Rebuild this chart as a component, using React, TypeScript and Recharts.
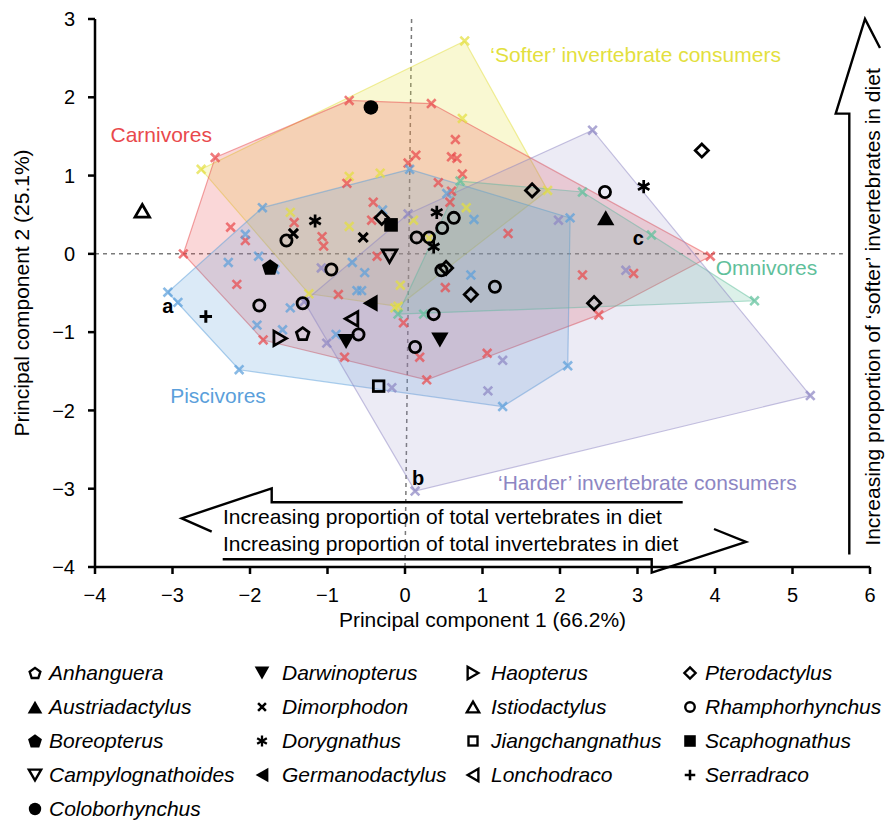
import React from "react";
import { ScatterChart, Scatter, XAxis, YAxis, ReferenceLine } from "recharts";

type Pt = [number, number];

const FONT = '"Liberation Sans", Arial, Helvetica, sans-serif';

const xTicks = [-4, -3, -2, -1, 0, 1, 2, 3, 4, 5, 6];
const yTicks = [-4, -3, -2, -1, 0, 1, 2, 3];

// diet groups: hull corners (in drawing order) + the remaining extant taxa
const carnivoreHull: Pt[] = [
  [-2.45, 1.23], [-0.72, 1.96], [0.34, 1.92], [3.94, -0.03], [2.5, -0.78],
  [0.28, -1.61], [-1.83, -1.1], [-2.86, 0.0],
];
const carnivoreInner: Pt[] = [
  [0.65, 1.46], [0.14, 1.26], [0.6, 1.24], [0.67, 1.22], [0.04, 1.16], [0.74, 1.02],
  [0.43, 0.91], [-0.75, 0.9], [-0.41, 0.66], [-0.43, 0.43], [-1.43, 0.4], [-2.25, 0.34],
  [-2.06, 0.17], [-1.07, 0.22], [-1.05, 0.1], [0.6, 0.8], [0.58, 0.66], [1.33, 0.26],
  [0.52, -0.43], [2.29, -0.27], [2.95, -0.25], [-0.36, -0.03], [-2.17, -0.39],
  [-0.86, -0.52], [-0.02, -0.88], [-0.78, -1.32], [0.19, -1.32], [1.06, -1.27],
];

const softerHull: Pt[] = [
  [0.77, 2.72], [1.84, 0.81], [-0.09, -0.67], [-1.24, -0.51], [-2.63, 1.08],
];
const softerInner: Pt[] = [
  [-0.72, 0.99], [-0.32, 1.03], [-1.48, 0.53], [-0.72, 0.35], [0.11, 0.43],
  [0.79, 0.59], [0.74, 1.73], [-0.06, -0.4], [-0.13, -0.69], [0.31, 0.2],
];

const omnivoreHull: Pt[] = [
  [0.71, 0.93], [2.29, 0.79], [3.18, 0.24], [4.51, -0.6], [-0.09, -0.77],
];
const omnivoreInner: Pt[] = [[0.24, -0.77]];

const piscivoreHull: Pt[] = [
  [0.06, 1.08], [2.13, 0.46], [2.1, -1.43], [1.26, -1.95], [-2.14, -1.48],
  [-3.06, -0.49], [-1.84, 0.59],
];
const piscivoreInner: Pt[] = [
  [-0.29, 0.56], [-2.06, 0.25], [-1.89, -0.03], [0.54, 0.77], [0.89, 0.44],
  [-1.68, -0.2], [-0.68, -0.11], [-0.52, -0.24], [-0.62, -0.47], [-0.56, -0.47],
  [-1.48, -0.69], [-1.91, -0.91], [-1.58, -0.97], [-0.89, -1.03], [0.85, -0.27],
  [-2.93, -0.62], [-2.28, -0.11],
];

const harderHull: Pt[] = [
  [0.04, 0.51], [2.42, 1.58], [5.23, -1.81], [0.13, -3.03], [-1.3, -0.61],
];
const harderInner: Pt[] = [
  [-1.08, -0.18], [-1.01, -1.14], [1.98, 0.43], [2.85, -0.21], [1.26, -1.36],
  [1.07, -1.75], [-0.17, -1.71],
];

// fossil taxa
const anhanguera: Pt[] = [[-1.32, -1.02]];
const austriadactylus: Pt[] = [[2.59, 0.46]];
const boreopterus: Pt[] = [[-1.74, -0.17]];
const campylognathoides: Pt[] = [[-0.2, -0.03]];
const coloborhynchus: Pt[] = [[-0.44, 1.87]];
const darwinopterus: Pt[] = [[-0.76, -1.12], [0.45, -1.1]];
const dimorphodon: Pt[] = [[-1.44, 0.26], [-0.54, 0.21]];
const dorygnathus: Pt[] = [[-1.16, 0.42], [0.41, 0.53], [0.37, 0.09], [3.08, 0.86]];
const germanodactylus: Pt[] = [[-0.45, -0.63]];
const haopterus: Pt[] = [[-1.61, -1.08]];
const istiodactylus: Pt[] = [[-3.39, 0.55]];
const jiangchangnathus: Pt[] = [[-0.34, -1.69]];
const lonchodraco: Pt[] = [[-0.69, -0.83]];
const pterodactylus: Pt[] = [
  [-0.3, 0.46], [1.64, 0.81], [3.83, 1.32], [0.85, -0.52], [2.44, -0.63], [0.53, -0.18],
];
const rhamphorhynchus: Pt[] = [
  [-1.53, 0.17], [0.15, 0.21], [0.31, 0.21], [0.48, 0.33], [0.63, 0.46], [2.58, 0.79],
  [-0.95, -0.2], [-1.88, -0.66], [-1.32, -0.63], [0.37, -0.77], [-0.6, -1.03],
  [0.13, -1.19], [1.16, -0.42], [0.47, -0.21],
];
const scaphognathus: Pt[] = [[-0.18, 0.37]];
const serradraco: Pt[] = [[-2.57, -0.8]];

const groupLabels = [
  { text: "\u2018Softer\u2019 invertebrate consumers", x: 1.1, y: 2.55, group: "soft" },
  { text: "Carnivores", x: -3.8, y: 1.53, group: "carn" },
  { text: "Omnivores", x: 4.01, y: -0.17, group: "omni" },
  { text: "Piscivores", x: -3.03, y: -1.81, group: "pisc" },
  { text: "\u2018Harder\u2019 invertebrate consumers", x: 1.2, y: -2.92, group: "hard" },
];
const letterLabels = [
  { text: "a", x: -3.06, y: -0.66 },
  { text: "b", x: 0.17, y: -2.86 },
  { text: "c", x: 3.01, y: 0.21 },
];

const colors: Record<string, string> = {
  carn: "#E9494C",
  soft: "#E3DF3E",
  omni: "#5FC09B",
  pisc: "#5B9FDB",
  hard: "#8D86C3",
};

const groups = [
  { key: "soft", hull: softerHull, inner: softerInner, fillOpacity: 0.23 },
  { key: "carn", hull: carnivoreHull, inner: carnivoreInner, fillOpacity: 0.22 },
  { key: "pisc", hull: piscivoreHull, inner: piscivoreInner, fillOpacity: 0.22 },
  { key: "omni", hull: omnivoreHull, inner: omnivoreInner, fillOpacity: 0.22 },
  { key: "hard", hull: harderHull, inner: harderInner, fillOpacity: 0.17 },
];

const taxa = [
  { name: "Anhanguera", glyph: "pentagonOpen", pts: anhanguera },
  { name: "Austriadactylus", glyph: "triUp", pts: austriadactylus },
  { name: "Boreopterus", glyph: "pentagon", pts: boreopterus },
  { name: "Campylognathoides", glyph: "triDownOpen", pts: campylognathoides },
  { name: "Coloborhynchus", glyph: "circle", pts: coloborhynchus },
  { name: "Darwinopterus", glyph: "triDown", pts: darwinopterus },
  { name: "Dimorphodon", glyph: "cross", pts: dimorphodon },
  { name: "Dorygnathus", glyph: "asterisk", pts: dorygnathus },
  { name: "Germanodactylus", glyph: "triLeft", pts: germanodactylus },
  { name: "Haopterus", glyph: "triRightOpen", pts: haopterus },
  { name: "Istiodactylus", glyph: "triUpOpen", pts: istiodactylus },
  { name: "Jiangchangnathus", glyph: "squareOpen", pts: jiangchangnathus },
  { name: "Lonchodraco", glyph: "triLeftOpen", pts: lonchodraco },
  { name: "Pterodactylus", glyph: "diamondOpen", pts: pterodactylus },
  { name: "Rhamphorhynchus", glyph: "circleOpen", pts: rhamphorhynchus },
  { name: "Scaphognathus", glyph: "square", pts: scaphognathus },
  { name: "Serradraco", glyph: "plus", pts: serradraco },
];

const toXY = (pts: Pt[]) => pts.map(([x, y]) => ({ x, y }));
const fmt = (v: number) => (v < 0 ? `\u2212${-v}` : `${v}`);

const regular = (cx: number, cy: number, r: number, n: number, start: number) =>
  Array.from({ length: n }, (_, i) => {
    const a = ((start + (360 / n) * i) * Math.PI) / 180;
    return `${(cx + r * Math.cos(a)).toFixed(2)},${(cy + r * Math.sin(a)).toFixed(2)}`;
  }).join(" ");

function Glyph({ kind, cx, cy, k = 1 }: { kind: string; cx: number; cy: number; k?: number }) {
  const open = { fill: "none", stroke: "#000", strokeWidth: 2.8 * k };
  const solid = { fill: "#000" };
  const line = { stroke: "#000", strokeWidth: 3 * k, fill: "none" };
  const tri = 10 * k;
  const triO = 8.4 * k;
  switch (kind) {
    case "pentagonOpen":
      return <polygon points={regular(cx, cy + 0.6 * k, 6.6 * k, 5, -90)} {...open} />;
    case "pentagon":
      return <polygon points={regular(cx, cy + 0.6 * k, 8.6 * k, 5, -90)} {...solid} />;
    case "triUp":
      return <polygon points={regular(cx, cy + tri / 4, tri, 3, -90)} {...solid} />;
    case "triUpOpen":
      return <polygon points={regular(cx, cy + triO / 4, triO, 3, -90)} {...open} />;
    case "triDown":
      return <polygon points={regular(cx, cy - tri / 4, tri, 3, 90)} {...solid} />;
    case "triDownOpen":
      return <polygon points={regular(cx, cy - triO / 4, triO, 3, 90)} {...open} />;
    case "triLeft":
      return <polygon points={regular(cx + tri / 4, cy, tri, 3, 180)} {...solid} />;
    case "triLeftOpen":
      return <polygon points={regular(cx + triO / 4, cy, triO, 3, 180)} {...open} />;
    case "triRightOpen":
      return <polygon points={regular(cx - triO / 4, cy, triO, 3, 0)} {...open} />;
    case "circle":
      return <circle cx={cx} cy={cy} r={7.3 * k} {...solid} />;
    case "circleOpen":
      return <circle cx={cx} cy={cy} r={5.6 * k} {...open} />;
    case "diamondOpen":
      return <polygon points={regular(cx, cy, 6.6 * k, 4, -90)} {...open} />;
    case "square":
      return <rect x={cx - 6.8 * k} y={cy - 6.8 * k} width={13.6 * k} height={13.6 * k} {...solid} />;
    case "squareOpen":
      return <rect x={cx - 5.3 * k} y={cy - 5.3 * k} width={10.6 * k} height={10.6 * k} {...open} />;
    case "cross": {
      const d = 4.6 * k;
      return <path d={`M${cx - d},${cy - d}L${cx + d},${cy + d}M${cx - d},${cy + d}L${cx + d},${cy - d}`} {...line} />;
    }
    case "plus": {
      const d = 6.2 * k;
      return <path d={`M${cx - d},${cy}L${cx + d},${cy}M${cx},${cy - d}L${cx},${cy + d}`} {...line} />;
    }
    case "asterisk": {
      const r = 6.6 * k;
      const c = r * 0.866;
      const s = r * 0.5;
      return (
        <path
          d={`M${cx},${cy - r}L${cx},${cy + r}M${cx - c},${cy - s}L${cx + c},${cy + s}M${cx - c},${cy + s}L${cx + c},${cy - s}`}
          {...line}
          strokeWidth={2.7 * k}
        />
      );
    }
    default:
      return <g />;
  }
}

const crossMark = (color: string) => (p: any) => {
  const d = 4.3;
  return (
    <path
      d={`M${p.cx - d},${p.cy - d}L${p.cx + d},${p.cy + d}M${p.cx - d},${p.cy + d}L${p.cx + d},${p.cy - d}`}
      stroke={color}
      strokeOpacity={0.72}
      strokeWidth={2.6}
      fill="none"
    />
  );
};

const legendCols = [
  { sx: 35, tx: 49, items: taxa.slice(0, 5) },
  { sx: 262, tx: 282, items: taxa.slice(5, 9) },
  { sx: 473, tx: 491, items: taxa.slice(9, 13) },
  { sx: 690, tx: 705, items: taxa.slice(13, 17) },
];

// hand-drawn arrows of the original figure (pixel positions)
const leftArrow = "682.7,502.3 271.7,502.3 271.7,488.3 181.7,518.3 211.7,531.7";
const rightArrow = "222.7,559.3 651.7,559.3 651.7,572.7 746,542 714,529";
const upArrow = "849.3,554.6 849.3,113.6 835.7,113.6 865,19 880,48";

export default function App() {
  return (
    <div
      style={{
        position: "absolute",
        left: 0,
        top: 0,
        width: 885,
        height: 821,
        background: "#fff",
        fontFamily: FONT,
      }}
    >
      <ScatterChart
        width={885}
        height={650}
        margin={{ top: 19, right: 15, bottom: 23, left: 8 }}
        style={{ fontFamily: FONT }}
      >
        <XAxis
          type="number"
          dataKey="x"
          domain={[-4, 6]}
          ticks={xTicks}
          tickFormatter={fmt}
          height={60}
          tickSize={7}
          tickMargin={14}
          axisLine={{ stroke: "#000", strokeWidth: 2.5 }}
          tickLine={{ stroke: "#000", strokeWidth: 2.5 }}
          tick={{ fill: "#000", fontSize: 20 }}
          label={{
            value: "Principal component 1 (66.2%)",
            position: "insideBottom",
            offset: 0,
            fill: "#000",
            fontSize: 21,
          }}
        />
        <YAxis
          type="number"
          dataKey="y"
          domain={[-4, 3]}
          ticks={yTicks}
          tickFormatter={fmt}
          width={87}
          tickSize={7}
          tickMargin={13}
          axisLine={{ stroke: "#000", strokeWidth: 2.5 }}
          tickLine={{ stroke: "#000", strokeWidth: 2.5 }}
          tick={{ fill: "#000", fontSize: 20 }}
          label={{
            value: "Principal component 2 (25.1%)",
            angle: -90,
            position: "insideLeft",
            offset: 14,
            fill: "#000",
            fontSize: 21,
            style: { textAnchor: "middle" },
          }}
        />

        {groups.map((g) => (
          <Scatter
            key={`hull-${g.key}`}
            data={toXY([...g.hull, g.hull[0]])}
            fill={colors[g.key]}
            line={{
              fill: colors[g.key],
              fillOpacity: g.fillOpacity,
              stroke: colors[g.key],
              strokeOpacity: 0.5,
              strokeWidth: 1.2,
            }}
            lineType="joint"
            shape={() => <g />}
            isAnimationActive={false}
          />
        ))}

        <ReferenceLine
          segment={[{ x: 0.085, y: 3 }, { x: 0, y: -4 }]}
          stroke="#7a7a7a"
          strokeWidth={1.5}
          strokeDasharray="4 4"
        />
        <ReferenceLine
          segment={[{ x: -4, y: 0 }, { x: 5.65, y: 0 }]}
          stroke="#7a7a7a"
          strokeWidth={1.5}
          strokeDasharray="4 4"
        />

        {groups.map((g) => (
          <Scatter
            key={`pts-${g.key}`}
            data={toXY([...g.hull, ...g.inner])}
            fill={colors[g.key]}
            shape={crossMark(colors[g.key])}
            isAnimationActive={false}
          />
        ))}

        {taxa.map((t) => (
          <Scatter
            key={t.name}
            name={t.name}
            data={toXY(t.pts)}
            fill="#000"
            shape={(p: any) => <Glyph kind={t.glyph} cx={p.cx} cy={p.cy} />}
            isAnimationActive={false}
          />
        ))}

        <Scatter
          data={groupLabels}
          fill="#000"
          shape={(p: any) => (
            <text
              x={p.cx}
              y={p.cy}
              dy="0.36em"
              fontSize={21}
              fontFamily={FONT}
              fill={colors[p.payload.group]}
            >
              {p.payload.text}
            </text>
          )}
          isAnimationActive={false}
        />
        <Scatter
          data={letterLabels}
          fill="#000"
          shape={(p: any) => (
            <text
              x={p.cx}
              y={p.cy}
              dy="0.36em"
              textAnchor="middle"
              fontSize={20}
              fontWeight="bold"
              fontFamily={FONT}
              fill="#000"
            >
              {p.payload.text}
            </text>
          )}
          isAnimationActive={false}
        />
      </ScatterChart>

      <svg
        width={885}
        height={650}
        style={{ position: "absolute", left: 0, top: 0, pointerEvents: "none" }}
      >
        <g fill="none" stroke="#000" strokeWidth={2.4}>
          <polyline points={leftArrow} />
          <polyline points={rightArrow} />
          <polyline points={upArrow} />
        </g>
        <g fontFamily={FONT} fontSize={21} fill="#000">
          <text x={223} y={524}>Increasing proportion of total vertebrates in diet</text>
          <text x={223} y={551}>Increasing proportion of total invertebrates in diet</text>
          <text transform="translate(880,545.7) rotate(-90)">
            Increasing proportion of {"\u2018softer\u2019"} invertebrates in diet
          </text>
        </g>
      </svg>

      {legendCols.map((col) =>
        col.items.map((t, i) => {
          const cy = 673 + i * 34;
          return (
            <React.Fragment key={t.name}>
              <svg
                width={22}
                height={22}
                style={{ position: "absolute", left: col.sx - 11, top: cy - 11 }}
              >
                <Glyph kind={t.glyph} cx={11} cy={11} k={0.85} />
              </svg>
              <div
                style={{
                  position: "absolute",
                  left: col.tx,
                  top: cy - 13,
                  height: 26,
                  lineHeight: "26px",
                  fontSize: 21,
                  fontStyle: "italic",
                  color: "#000",
                  whiteSpace: "nowrap",
                }}
              >
                {t.name}
              </div>
            </React.Fragment>
          );
        })
      )}
    </div>
  );
}
